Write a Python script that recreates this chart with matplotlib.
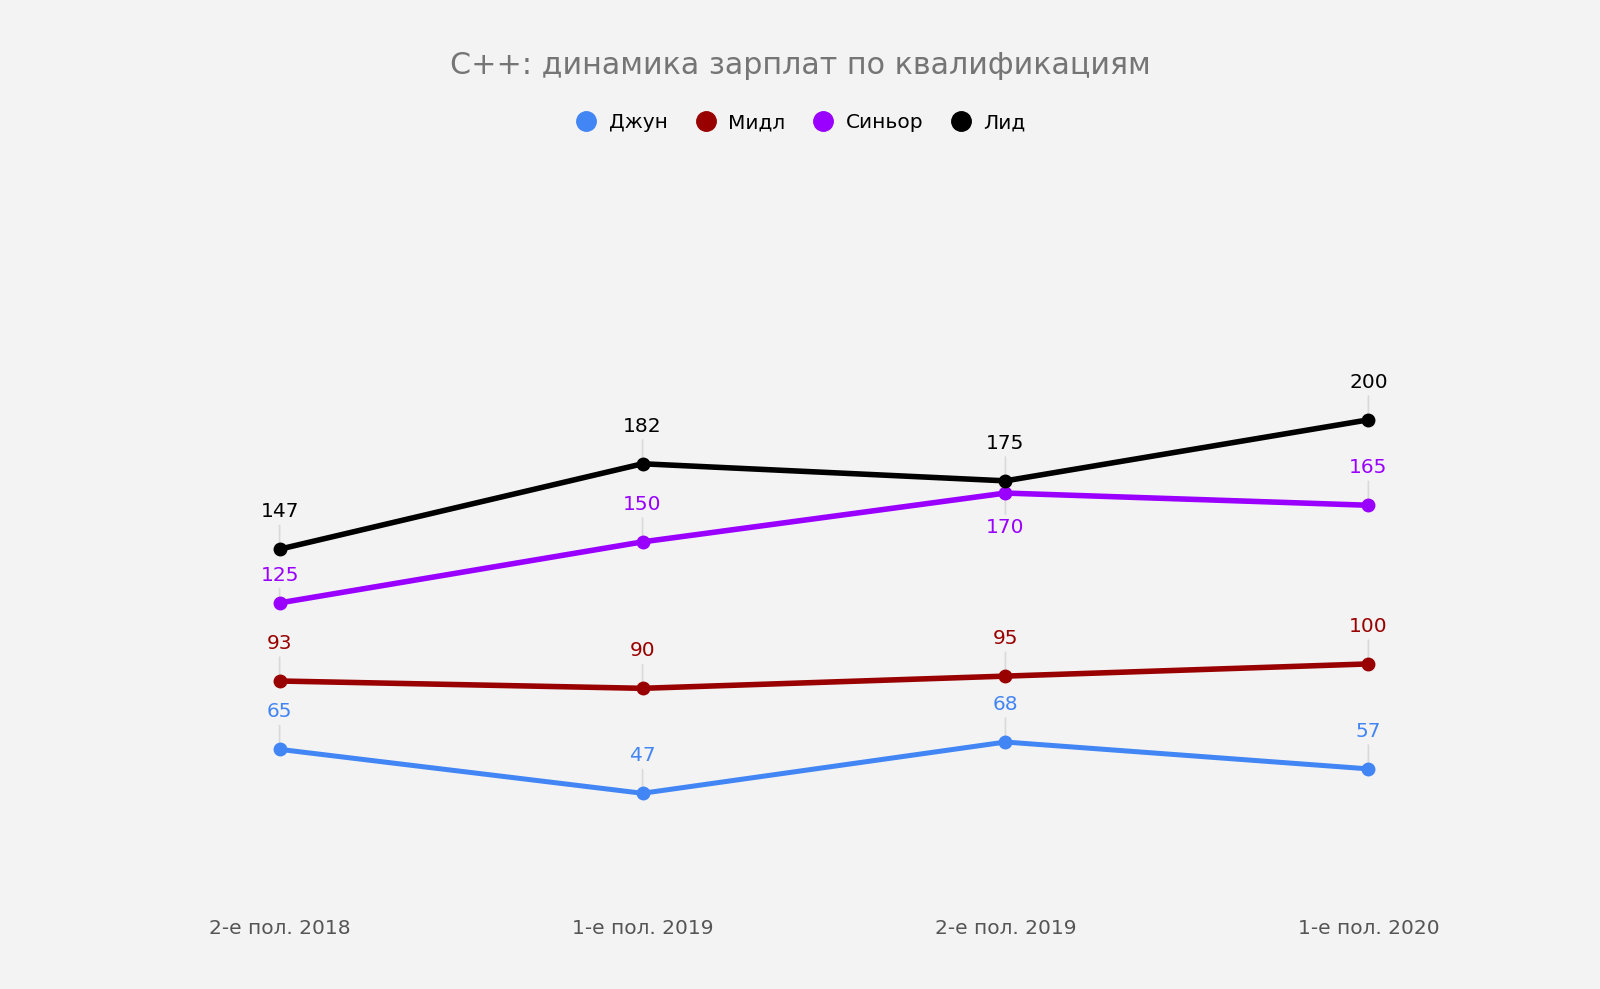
import matplotlib.pyplot as plt
from matplotlib.lines import Line2D

# Data
periods = ["2-е пол. 2018", "1-е пол. 2019", "2-е пол. 2019", "1-е пол. 2020"]
junior = [65, 47, 68, 57]
middle = [93, 90, 95, 100]
senior = [125, 150, 170, 165]
lead = [147, 182, 175, 200]

series = [
    ("Джун", junior, "#4285F4"),
    ("Мидл", middle, "#990000"),
    ("Синьор", senior, "#9900FF"),
    ("Лид", lead, "#000000"),
]

# label offsets (points) that differ from the default
offsets = {("Синьор", 2): -25, ("Синьор", 0): 20}

bg = "#F3F3F3"
plt.rcParams["font.family"] = ["DejaVu Sans"]

fig = plt.figure(figsize=(16, 9.89), dpi=100, facecolor=bg)
ax = fig.add_axes([0.1067, 0.0819, 0.8166, 0.7404], facecolor=bg)

x = list(range(len(periods)))
for name, vals, color in series:
    lw = 4.0 if name != "Джун" else 3.6
    ax.plot(x, vals, color=color, lw=lw, marker="o", markersize=9,
            solid_capstyle="round", zorder=3)
    for i, v in enumerate(vals):
        dy = offsets.get((name, i), 27)
        ax.annotate(str(v), xy=(i, v), xytext=(0, dy), textcoords="offset points",
                    ha="center", va="center", fontsize=14.5, color=color,
                    arrowprops=dict(arrowstyle="-", color="#D9D9D9", lw=1.2,
                                    shrinkA=1, shrinkB=0),
                    zorder=2)

ax.set_xlim(-0.3, 3.3)
ax.set_ylim(0, 300)
ax.set_xticks(x)
ax.set_xticklabels(periods, fontsize=14.5, color="#555555")
ax.tick_params(axis="x", length=0, pad=8)
ax.set_yticks([])
for s in ax.spines.values():
    s.set_visible(False)

fig.text(0.5, 1 - 66 / 989, "C++: динамика зарплат по квалификациям",
         ha="center", va="center", fontsize=21.7, color="#757575")

handles = [Line2D([], [], marker="o", linestyle="none", markersize=14,
                  color=c, label=n) for n, _, c in series]
fig.legend(handles=handles, loc="center", bbox_to_anchor=(0.5, 1 - 123 / 989),
           ncol=4, frameon=False, fontsize=14.5, handletextpad=0.5,
           columnspacing=1.3, handlelength=1.2)

fig.savefig("out.png", dpi=100, facecolor=bg)
